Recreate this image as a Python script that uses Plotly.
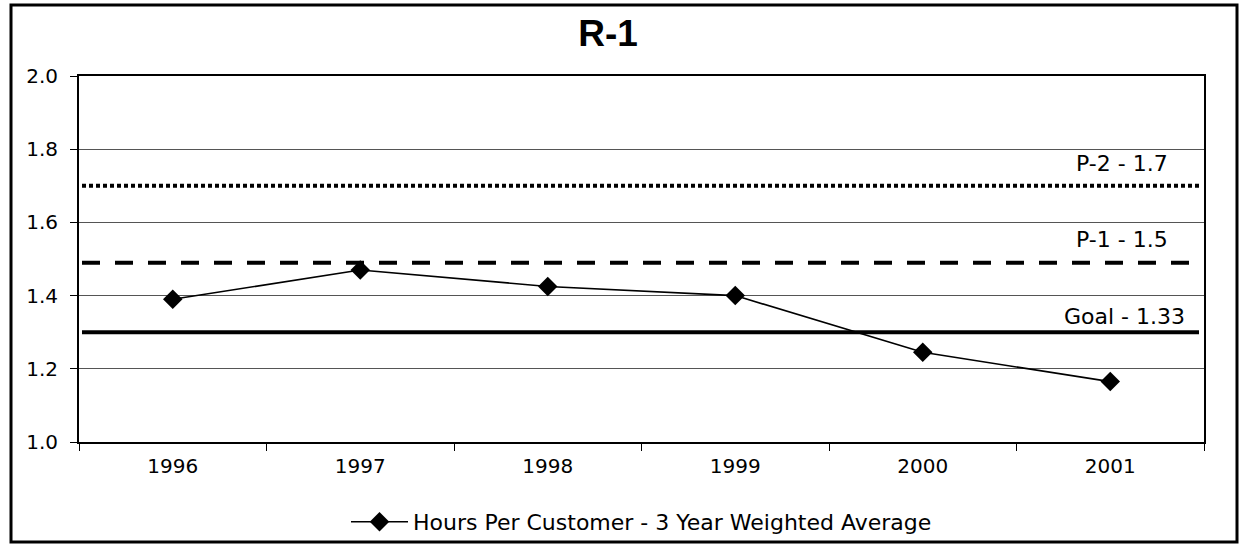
import plotly.graph_objects as go

# ---- data ----
years = ["1996", "1997", "1998", "1999", "2000", "2001"]
hours_per_customer = [1.39, 1.47, 1.425, 1.40, 1.245, 1.165]
series_name = "Hours Per Customer - 3 Year Weighted Average"

threshold_values = [1.70, 1.49, 1.30]
threshold_labels = ["P-2 - 1.7", "P-1 - 1.5", "Goal - 1.33"]
threshold_label_y = [1.762, 1.552, 1.344]
threshold_dash = ["4px,3px", "18px,15px", "solid"]
threshold_label_x = [0.970, 0.970, 0.985]

y_ticks = [1.0, 1.2, 1.4, 1.6, 1.8, 2.0]
title_text = "R-1"

# ---- layout geometry ----
W, H = 1241, 545
ML, MR, MT, MB = 79, 37, 76, 103
PW, PH = W - ML - MR, H - MT - MB

def px_x(p):
    return (p - ML) / PW

def px_y(p):
    return (H - MB - p) / PH

fig = go.Figure()

fig.add_trace(go.Scatter(
    x=years, y=hours_per_customer, name=series_name,
    mode="lines+markers",
    line=dict(color="black", width=1.6),
    marker=dict(symbol="diamond", size=15, color="black"),
    showlegend=True,
))

shapes = []
for v, d in zip(threshold_values, threshold_dash):
    shapes.append(dict(
        type="line", xref="paper", yref="y",
        x0=px_x(82), x1=px_x(1199), y0=v, y1=v,
        line=dict(color="black", width=4, dash=d),
        layer="above",
    ))
# outer frame
shapes.append(dict(
    type="rect", xref="paper", yref="paper",
    x0=px_x(11), x1=px_x(1237), y0=px_y(542), y1=px_y(5),
    line=dict(color="black", width=3), fillcolor="rgba(0,0,0,0)",
    layer="above",
))

annotations = []
for lab, ly, lx in zip(threshold_labels, threshold_label_y, threshold_label_x):
    annotations.append(dict(
        text=lab, xref="paper", yref="y", x=lx, y=ly,
        xanchor="right", yanchor="middle", showarrow=False,
        font=dict(family="DejaVu Sans", size=22, color="black"),
    ))

fig.update_layout(
    width=W, height=H,
    margin=dict(l=ML, r=MR, t=MT, b=MB, pad=0, autoexpand=False),
    paper_bgcolor="white", plot_bgcolor="white",
    title=dict(
        text="<b>" + title_text + "</b>",
        x=608 / W, xref="container", xanchor="center",
        y=1 - 33 / H, yref="container", yanchor="middle",
        font=dict(family="Liberation Sans", size=37, color="black"),
    ),
    font=dict(family="DejaVu Sans", size=20, color="black"),
    shapes=shapes,
    annotations=annotations,
    legend=dict(
        orientation="h", x=0.5, xanchor="center",
        y=px_y(522), yanchor="middle",
        font=dict(family="DejaVu Sans", size=22, color="black"),
        itemwidth=57, bgcolor="rgba(0,0,0,0)",
    ),
    xaxis=dict(
        type="category", range=[-0.5, 5.5], automargin=False,
        tickson="boundaries", ticks="outside", ticklen=7,
        tickcolor="black", tickwidth=1,
        showline=True, linecolor="black", linewidth=2, mirror=True,
        showgrid=False, ticklabelstandoff=5,
        tickfont=dict(family="DejaVu Sans", size=20, color="black"),
    ),
    yaxis=dict(
        range=[1.0, 2.0], tickvals=y_ticks, tickformat=".1f", automargin=False,
        ticks="outside", ticklen=7, tickcolor="black", tickwidth=1,
        showline=True, linecolor="black", linewidth=2, mirror=True,
        showgrid=True, gridcolor="#555555", gridwidth=1,
        zeroline=False, ticklabelstandoff=8,
        tickfont=dict(family="DejaVu Sans", size=20, color="black"),
    ),
)

fig.write_html(
    "out.html",
    config={"displayModeBar": False},
    post_script="document.body.style.margin='0';",
)
